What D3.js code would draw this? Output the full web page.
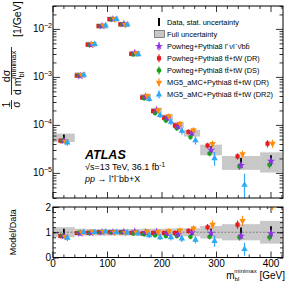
<!DOCTYPE html>
<html>
<head>
<meta charset="utf-8">
<script src="https://cdn.jsdelivr.net/npm/d3@7"></script>
<style>
  body { margin: 0; background: #fff; }
  text { font-family: "Liberation Sans", Arial, sans-serif; fill: #000; }
  .axis path { stroke: #000; stroke-width: 1; }
  .axis line { stroke: #000; stroke-width: 0.8; }
</style>
</head>
<body>
<div class="display"></div>
<script>
// m_bl minimax, normalised cross-section with model/data ratio

const WIDTH = 291;
const HEIGHT = 282;

// bin edges [GeV]
const binLo = [0, 40, 60, 80, 100, 120, 140, 160, 180, 200, 220, 240, 270, 310, 380];
const binHi = [40, 60, 80, 100, 120, 140, 160, 180, 200, 220, 240, 270, 310, 380, 420];

// data [1/GeV] and relative uncertainties
const dataVal  = [5.5e-5, 1.1e-3, 4.8e-3, 1.15e-2, 1.6e-2, 1.25e-2, 3.1e-3, 3.9e-4, 2.0e-4, 1.45e-4, 1.0e-4, 6.8e-5, 3.1e-5, 1.7e-5, 1.85e-5];
const dataStat = [0.10, 0.03, 0.02, 0.02, 0.02, 0.02, 0.02, 0.04, 0.05, 0.06, 0.07, 0.07, 0.10, 0.15, 0.20];
const fullUnc  = [0.20, 0.14, 0.13, 0.13, 0.13, 0.13, 0.13, 0.14, 0.14, 0.14, 0.15, 0.16, 0.25, 0.32, 0.45];

// model / data
const ratioBb4l  = [0.85, 0.95, 0.97, 1.00, 1.00, 1.02, 1.03, 1.00, 1.02, 0.95, 0.92, 1.00, 0.97, 0.85, 0.95];
const ratioDR    = [0.85, 0.97, 0.98, 1.00, 1.00, 1.00, 0.97, 0.95, 0.97, 0.97, 0.97, 1.05, 1.20, 1.30, 2.20];
const ratioDS    = [0.85, 0.98, 0.98, 1.00, 1.00, 1.00, 0.95, 0.92, 0.88, 0.85, 0.85, 0.82, 0.82, 0.80, 0.80];
const ratioMgDR  = [0.82, 1.00, 1.02, 1.02, 1.00, 0.98, 1.00, 1.03, 1.02, 1.05, 1.07, 1.15, 1.30, 1.45, 2.20];
const ratioMgDR2 = [0.78, 1.00, 1.00, 1.02, 1.00, 0.98, 0.95, 0.88, 0.80, 0.80, 0.75, 0.70, 0.65, 0.33, null];

// relative MC stat. uncertainty
const errPowheg = [0.05, 0.02, 0.02, 0.02, 0.02, 0.02, 0.02, 0.03, 0.03, 0.04, 0.04, 0.05, 0.06, 0.08, 0.10];
const errMgDR   = [0.06, 0.02, 0.02, 0.02, 0.02, 0.02, 0.02, 0.04, 0.04, 0.05, 0.05, 0.06, 0.08, 0.10, 0.12];
const errMgDR2  = [0.08, 0.03, 0.02, 0.02, 0.02, 0.02, 0.03, 0.05, 0.06, 0.08, 0.10, 0.12, 0.25, 0.60, 0];

const models = [
  { ratio: ratioDR, err: errPowheg, color: '#e8191c', shape: 'square', dx: -3.5 },
  { ratio: ratioDS, err: errPowheg, color: '#19a11a', shape: 'circle', dx: -1.5 },
  { ratio: ratioBb4l, err: errPowheg, color: '#8e33e6', shape: 'star', dx: 0 },
  { ratio: ratioMgDR, err: errMgDR, color: '#ff8c0a', shape: 'tridown', dx: 1.5 },
  { ratio: ratioMgDR2, err: errMgDR2, color: '#2eaaf5', shape: 'triup', dx: 3.5 }
];

const legendLabels = [
  'Data, stat. uncertainty',
  'Full uncertainty',
  'Powheg+Pythia8 l\u207A\u03BDl\u207B\u03BD\u0304bb\u0304',
  'Powheg+Pythia8 tt\u0304+tW (DR)',
  'Powheg+Pythia8 tt\u0304+tW (DS)',
  'MG5_aMC+Pythia8 tt\u0304+tW (DR)',
  'MG5_aMC+Pythia8 tt\u0304+tW (DR2)'
];
// legend order -> model index
const legendModel = [2, 0, 1, 3, 4];

const bins = binLo.map((lo, i) => ({ lo, hi: binHi[i], i }));

const L = 53, R = 283;
const x = d3.scaleLinear().domain([0, 422]).range([L, R]);
const y = d3.scaleLog().domain([3e-6, 3e-2]).range([198, 6]);
const yr = d3.scaleLinear().domain([0, 2]).range([257.5, 207]);

const svg = d3.select('.display').append('svg')
  .attr('width', WIDTH).attr('height', HEIGHT);

const defs = svg.append('defs');
defs.append('clipPath').attr('id', 'clipMain').append('rect')
  .attr('x', L).attr('y', y.range()[1]).attr('width', R - L).attr('height', y.range()[0] - y.range()[1]);
defs.append('clipPath').attr('id', 'clipRatio').append('rect')
  .attr('x', L).attr('y', yr.range()[1]).attr('width', R - L).attr('height', yr.range()[0] - yr.range()[1]);

function symbolPath(shape) {
  const map = {
    square: [d3.symbolSquare, 17],
    circle: [d3.symbolCircle, 17],
    star: [d3.symbolStar, 20],
    tridown: [d3.symbolTriangle, 18],
    triup: [d3.symbolTriangle, 18]
  };
  return d3.symbol().type(map[shape][0]).size(map[shape][1])();
}

function drawMarker(g, cx, cy, m) {
  g.append('path')
    .attr('d', symbolPath(m.shape))
    .attr('transform', `translate(${cx},${cy})` + (m.shape === 'tridown' ? ' rotate(180)' : ''))
    .attr('fill', m.color);
}

// ---------- main panel ----------
const main = svg.append('g').attr('clip-path', 'url(#clipMain)');

main.selectAll('.unc').data(bins).enter().append('rect')
  .attr('x', d => x(d.lo)).attr('width', d => x(d.hi) - x(d.lo))
  .attr('y', d => y(dataVal[d.i] * (1 + fullUnc[d.i])))
  .attr('height', d => y(dataVal[d.i] * (1 - fullUnc[d.i])) - y(dataVal[d.i] * (1 + fullUnc[d.i])))
  .attr('fill', '#c8c8c8');

function logLow(v) { return v > 0 ? y(v) : y.range()[0] + 5; }

main.selectAll('.dat').data(bins).enter().append('line')
  .attr('x1', d => x((d.lo + d.hi) / 2)).attr('x2', d => x((d.lo + d.hi) / 2))
  .attr('y1', d => y(dataVal[d.i] * (1 + dataStat[d.i])) - 1)
  .attr('y2', d => y(dataVal[d.i] * (1 - dataStat[d.i])) + 1)
  .attr('stroke', '#000').attr('stroke-width', 1.8);

models.forEach(m => {
  const g = main.append('g');
  bins.forEach(d => {
    const r = m.ratio[d.i];
    if (r == null) return;
    const v = dataVal[d.i] * r;
    const cx = x((d.lo + d.hi) / 2) + m.dx;
    g.append('line')
      .attr('x1', cx).attr('x2', cx)
      .attr('y1', y(v * (1 + m.err[d.i])) - 1.5)
      .attr('y2', logLow(v * (1 - m.err[d.i])) + 1.5)
      .attr('stroke', m.color).attr('stroke-width', 1.2);
    drawMarker(g, cx, y(v), m);
  });
});

// ---------- ratio panel ----------
const ratio = svg.append('g').attr('clip-path', 'url(#clipRatio)');

ratio.selectAll('.unc').data(bins).enter().append('rect')
  .attr('x', d => x(d.lo)).attr('width', d => x(d.hi) - x(d.lo))
  .attr('y', d => yr(1 + fullUnc[d.i]))
  .attr('height', d => yr(1 - fullUnc[d.i]) - yr(1 + fullUnc[d.i]))
  .attr('fill', '#c8c8c8');

ratio.append('line')
  .attr('x1', L).attr('x2', R).attr('y1', yr(1)).attr('y2', yr(1))
  .attr('stroke', '#555').attr('stroke-width', 0.6).attr('stroke-dasharray', '2,1.5');

ratio.selectAll('.dat').data(bins).enter().append('line')
  .attr('x1', d => x((d.lo + d.hi) / 2)).attr('x2', d => x((d.lo + d.hi) / 2))
  .attr('y1', d => yr(1 + dataStat[d.i]) - 1)
  .attr('y2', d => yr(1 - dataStat[d.i]) + 1)
  .attr('stroke', '#000').attr('stroke-width', 1.8);

models.forEach(m => {
  const g = ratio.append('g');
  bins.forEach(d => {
    const r = m.ratio[d.i];
    if (r == null) return;
    const cx = x((d.lo + d.hi) / 2) + m.dx;
    g.append('line')
      .attr('x1', cx).attr('x2', cx)
      .attr('y1', yr(r * (1 + m.err[d.i])) - 1.5)
      .attr('y2', yr(r * (1 - m.err[d.i])) + 1.5)
      .attr('stroke', m.color).attr('stroke-width', 1.2);
    drawMarker(g, cx, yr(r), m);
  });
});

// ---------- axes ----------
function frame(top, bottom) {
  svg.append('rect').attr('x', L).attr('y', top).attr('width', R - L).attr('height', bottom - top)
    .attr('fill', 'none').attr('stroke', '#000').attr('stroke-width', 1);
}

function xTicks(top, bottom, major) {
  const minors = d3.range(0, 421, 20);
  const g = svg.append('g');
  minors.forEach(v => {
    const len = v % 100 === 0 ? major : 3;
    g.append('line').attr('x1', x(v)).attr('x2', x(v)).attr('y1', bottom).attr('y2', bottom - len).attr('stroke', '#000').attr('stroke-width', 0.8);
    g.append('line').attr('x1', x(v)).attr('x2', x(v)).attr('y1', top).attr('y2', top + len).attr('stroke', '#000').attr('stroke-width', 0.8);
  });
}

const majorsLog = [1e-5, 1e-4, 1e-3, 1e-2];
const minorsLog = [];
[-6, -5, -4, -3, -2].forEach(e => d3.range(2, 10).forEach(k => {
  const v = k * Math.pow(10, e);
  if (v >= 3e-6 && v <= 3e-2) minorsLog.push(v);
}));

function yAxis(side, scale, values, size) {
  const pos = side === 'left' ? L : R;
  const ax = side === 'left' ? d3.axisLeft(scale) : d3.axisRight(scale);
  svg.append('g').attr('class', 'axis').attr('transform', `translate(${pos},0)`)
    .call(ax.tickValues(values).tickSize(-size).tickFormat(''))
    .call(g => g.select('.domain').remove());
}

yAxis('left', y, majorsLog, 7);
yAxis('left', y, minorsLog, 3.5);
yAxis('right', y, majorsLog, 7);
yAxis('right', y, minorsLog, 3.5);
xTicks(y.range()[1], y.range()[0], 6);
frame(y.range()[1], y.range()[0]);

const ratioMinor = d3.range(0, 2.01, 0.2).map(v => +v.toFixed(1));
yAxis('left', yr, ratioMinor, 3);
yAxis('left', yr, [0, 1, 2], 6);
yAxis('right', yr, ratioMinor, 3);
yAxis('right', yr, [0, 1, 2], 6);
xTicks(yr.range()[1], yr.range()[0], 6);
frame(yr.range()[1], yr.range()[0]);

// tick labels
majorsLog.forEach(v => {
  const t = svg.append('text').attr('x', L - 1).attr('y', y(v) + 3.5)
    .attr('text-anchor', 'end').attr('font-size', 10);
  t.append('tspan').text('10');
  t.append('tspan').attr('font-size', 7).attr('dy', -4.5).text('\u2212' + Math.round(-Math.log10(v)));
});

[0, 1, 2].forEach(v => {
  svg.append('text').attr('x', L - 2).attr('y', yr(v) + 3.6)
    .attr('text-anchor', 'end').attr('font-size', 10).text(v);
});

[0, 100, 200, 300, 400].forEach(v => {
  svg.append('text').attr('x', x(v)).attr('y', 267)
    .attr('text-anchor', 'middle').attr('font-size', 10).text(v);
});

// x title
const xt = svg.append('text').attr('x', 285).attr('y', 279).attr('text-anchor', 'end').attr('font-size', 10);
xt.append('tspan').text('m');
xt.append('tspan').attr('font-size', 6).attr('dy', 2).text('bl');
xt.append('tspan').attr('font-size', 6).attr('dx', -5).attr('dy', -8).text('minimax');
xt.append('tspan').attr('dy', 6).text(' [GeV]');

// ratio y title
svg.append('text').attr('transform', `translate(16,${yr(1)}) rotate(-90)`)
  .attr('text-anchor', 'middle').attr('font-size', 9).text('Model/Data');

// main y title
const yt = svg.append('g').attr('transform', 'rotate(-90)');
yt.append('text').attr('x', -104.5).attr('y', 10).attr('text-anchor', 'middle').attr('font-size', 10.5).text('1');
yt.append('line').attr('x1', -109).attr('x2', -100).attr('y1', 11.5).attr('y2', 11.5).attr('stroke', '#000').attr('stroke-width', 0.8);
yt.append('text').attr('x', -104.5).attr('y', 19.5).attr('text-anchor', 'middle').attr('font-size', 10.5).text('\u03C3');
yt.append('text').attr('x', -76).attr('y', 10).attr('text-anchor', 'middle').attr('font-size', 10.5).text('d\u03C3');
yt.append('line').attr('x1', -95).attr('x2', -47).attr('y1', 11.5).attr('y2', 11.5).attr('stroke', '#000').attr('stroke-width', 0.8);
const den = yt.append('text').attr('x', -95).attr('y', 20.5).attr('font-size', 10.5);
den.append('tspan').text('d m');
den.append('tspan').attr('font-size', 7.5).attr('dy', 3).text('bl');
den.append('tspan').attr('font-size', 7.5).attr('dx', -7).attr('dy', -8).text('minimax');
yt.append('text').attr('x', -37).attr('y', 21).attr('font-size', 10.5).text('[1/GeV]');

// ATLAS label
svg.append('text').attr('x', 85).attr('y', 159).attr('font-size', 12.5)
  .attr('font-weight', 'bold').attr('font-style', 'italic').text('ATLAS');
const en = svg.append('text').attr('x', 85).attr('y', 170).attr('font-size', 9);
en.append('tspan').text('\u221As=13 TeV, 36.1 fb');
en.append('tspan').attr('font-size', 6.5).attr('dy', -3.5).text('-1');
const pr = svg.append('text').attr('x', 85).attr('y', 182).attr('font-size', 9);
pr.append('tspan').attr('font-style', 'italic').text('pp');
pr.append('tspan').text(' \u2192 l\u207Al\u207Bbb+X');

// legend
const lg = svg.append('g');
const lx = 159, ly0 = 22, ldy = 12.1;
lg.append('line').attr('x1', lx).attr('x2', lx).attr('y1', ly0 - 4).attr('y2', ly0 + 4)
  .attr('stroke', '#000').attr('stroke-width', 2);
lg.append('rect').attr('x', lx - 4.5).attr('y', ly0 + ldy - 3.5).attr('width', 10).attr('height', 7)
  .attr('fill', '#c8c8c8').attr('stroke', '#444').attr('stroke-width', 0.6);
legendModel.forEach((mi, k) => {
  const m = models[mi];
  const cy = ly0 + ldy * (k + 2);
  lg.append('line').attr('x1', lx).attr('x2', lx).attr('y1', cy - 4).attr('y2', cy + 4)
    .attr('stroke', m.color).attr('stroke-width', 1.2);
  drawMarker(lg, lx, cy, m);
});
legendLabels.forEach((t, k) => {
  lg.append('text').attr('x', 167).attr('y', ly0 + ldy * k + 2.6).attr('font-size', 7.4).text(t);
});
</script>
</body>
</html>
